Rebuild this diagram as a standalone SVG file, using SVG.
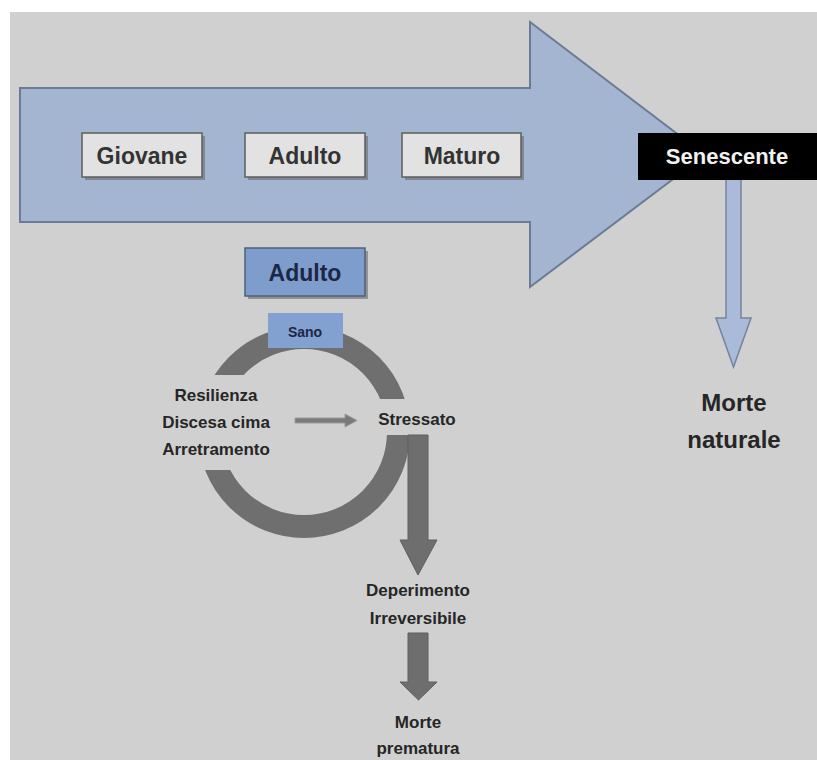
<svg xmlns="http://www.w3.org/2000/svg" width="817" height="760" viewBox="0 0 817 760">
<style>
.lbl{font-family:"Liberation Sans",Arial,sans-serif;font-weight:bold;text-anchor:middle}
.big{font-size:23px}
.mid{font-size:17px;fill:#262626}
.box{fill:#e2e2e2;stroke:#5c5c5c;stroke-width:1.5}
.shadow{fill:#6a6a6a;opacity:0.6}
.garrow{fill:#6e6e6e;stroke:#5e5e5e;stroke-width:1}
</style>
<defs>
<mask id="ringGap" maskUnits="userSpaceOnUse" x="0" y="0" width="817" height="760">
<rect x="0" y="0" width="817" height="760" fill="#fff"/>
<rect x="150" y="375" width="154" height="95" fill="#000"/>
<rect x="304" y="399" width="160" height="36" fill="#000"/>
</mask>
</defs>
<rect x="0" y="0" width="817" height="760" fill="#ffffff"/>
<rect x="10" y="12" width="807" height="748" fill="#d0d0d0"/>

<g id="timeline">
<polygon points="20,88 530,88 530,22 705,155 530,287 530,222 20,222" fill="#a4b5d1" stroke="#6c7b94" stroke-width="2"/>
</g>

<g id="connectors">
<g id="natural-arrow">
<polygon points="726,178 741,178 741,318 751,318 733.5,367 716,318 726,318" fill="#a9bbd8" stroke="#74849e" stroke-width="1.5"/>
</g>
<g id="ring">
<circle cx="304" cy="432" r="94.5" fill="none" stroke="#6f6f6f" stroke-width="23" mask="url(#ringGap)"/>
</g>
<g id="small-arrow">
<polygon points="295,418 345,418 345,414 357,420.5 345,427 345,423 295,423" fill="#7a7a7a" stroke="#9a9a9a" stroke-width="1"/>
</g>
<g id="stress-arrow">
<polygon class="garrow" points="408,435 428,435 428,540 437,540 418,575 400,540 408,540"/>
</g>
<g id="decline-arrow">
<polygon class="garrow" points="408,633 428,633 428,682 437,682 418.5,700 400,682 408,682"/>
</g>
</g>

<g id="giovane">
<rect class="shadow" x="85" y="136" width="120" height="44"/>
<rect class="box" x="82" y="133" width="120" height="44"/>
<text class="lbl big" x="142" y="164" fill="#333">Giovane</text>
</g>
<g id="adulto">
<rect class="shadow" x="248" y="136" width="120" height="44"/>
<rect class="box" x="245" y="133" width="120" height="44"/>
<text class="lbl big" x="305" y="164" fill="#333">Adulto</text>
</g>
<g id="maturo">
<rect class="shadow" x="405" y="136" width="119" height="44"/>
<rect class="box" x="402" y="133" width="119" height="44"/>
<text class="lbl big" x="462" y="164" fill="#333">Maturo</text>
</g>
<g id="senescente">
<rect x="638" y="133" width="179" height="47" fill="#000"/>
<text class="lbl" x="727" y="164" font-size="22" fill="#f2f2f2">Senescente</text>
</g>
<g id="adulto-detail">
<rect class="shadow" x="248" y="251" width="120" height="48"/>
<rect x="245" y="248" width="120" height="48" fill="#7f9dcc" stroke="#4f5f7a" stroke-width="1.5"/>
<text class="lbl big" x="305" y="281" fill="#1c2745">Adulto</text>
</g>
<g id="sano">
<rect x="268" y="313" width="75" height="35" fill="#82a0d0"/>
<text class="lbl" x="305" y="337" font-size="14" fill="#1c2745">Sano</text>
</g>
<g id="resilienza">
<text class="lbl mid" x="216" y="401">Resilienza</text>
<text class="lbl mid" x="216" y="428">Discesa cima</text>
<text class="lbl mid" x="216" y="455">Arretramento</text>
</g>
<g id="stressato">
<text class="lbl mid" x="417" y="425">Stressato</text>
</g>
<g id="deperimento">
<text class="lbl mid" x="418" y="596">Deperimento</text>
<text class="lbl mid" x="418" y="624">Irreversibile</text>
</g>
<g id="morte-prematura">
<text class="lbl mid" x="418" y="728">Morte</text>
<text class="lbl mid" x="418" y="754">prematura</text>
</g>
<g id="morte-naturale">
<text class="lbl" x="734" y="411" font-size="24" fill="#262626">Morte</text>
<text class="lbl" x="734" y="448" font-size="24" fill="#262626">naturale</text>
</g>
</svg>
